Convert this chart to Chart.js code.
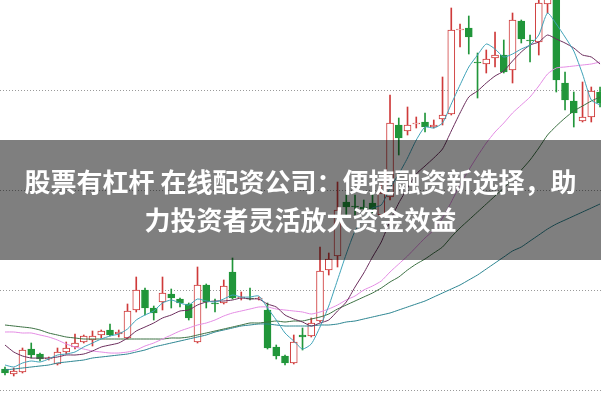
<!DOCTYPE html>
<html lang="zh">
<head>
<meta charset="UTF-8">
<title>K线图</title>
<script src="https://cdn.jsdelivr.net/npm/chart.js"></script>
<style>
    body { margin: 0; background: #fff; }
    .wrap { position: relative; width: 601px; height: 401px; overflow: hidden; }
    .banner {
        position: absolute; left: 0; top: 140px; width: 601px; height: 120px;
        box-sizing: border-box; padding-top: 22px;
        background: rgba(0, 0, 0, 0.5); color: #fff;
        font-family: "Noto Sans CJK SC", "Noto Sans", sans-serif; font-weight: 700;
        font-size: 26px; line-height: 38px; text-align: center; white-space: nowrap;
    }
</style>
</head>
<body>
<div class="wrap">
    <canvas id="kline" width="601" height="401"></canvas>
    <div class="banner">股票有杠杆 在线配资公司：便捷融资新选择，助<br>力投资者灵活放大资金效益</div>
</div>

<script>
// 交易日序号
const days = Array.from({ length: 69 }, (_, i) => i);

// K线数据
const opens = [4.21, 4.16, 4.18, 4.41, 4.36, 4.31, 4.26, 4.38, 4.43, 4.48,
    4.50, 4.55, 4.60, 4.56, 4.52, 4.80, 5.00, 4.82, 4.88, 4.96,
    4.91, 4.86, 4.48, 5.05, 4.87, 4.87, 5.18, 4.92, 4.92, 4.91,
    4.80, 4.43, 4.34, 4.27, 4.55, 4.54, 4.69, 5.20, 5.34, 5.88,
    5.84, 5.83, 5.87, 5.75, 5.93, 6.65, 6.59, 6.66, 6.68, 6.63,
    6.71, 6.76, 7.60, 7.62, 7.28, 7.26, 7.32, 7.35, 7.20, 7.69,
    7.50, 7.48, 7.86, 8.05, 7.07, 6.89, 6.69, 6.73, 6.98];
const highs = [4.23, 4.22, 4.42, 4.47, 4.37, 4.33, 4.42, 4.48, 4.56, 4.55,
    4.59, 4.60, 4.66, 4.60, 4.86, 5.13, 5.02, 4.84, 5.13, 5.01,
    4.92, 4.87, 5.23, 5.06, 4.91, 5.10, 5.32, 4.98, 5.02, 4.93,
    4.87, 4.45, 4.35, 4.55, 4.62, 4.72, 5.43, 5.37, 6.08, 5.95,
    5.95, 5.90, 5.96, 6.07, 6.95, 6.72, 6.83, 6.73, 6.77, 6.70,
    7.13, 7.82, 7.66, 7.74, 7.37, 7.40, 7.58, 7.50, 7.77, 7.70,
    7.55, 7.95, 8.35, 8.10, 7.18, 6.98, 7.08, 7.03, 7.03];
const lows = [4.15, 4.14, 4.17, 4.32, 4.29, 4.30, 4.25, 4.36, 4.41, 4.47,
    4.44, 4.52, 4.54, 4.53, 4.51, 4.78, 4.75, 4.70, 4.80, 4.82,
    4.83, 4.70, 4.47, 4.82, 4.78, 4.86, 4.91, 4.90, 4.90, 4.90,
    4.41, 4.31, 4.25, 4.26, 4.40, 4.53, 4.68, 5.15, 5.23, 5.73,
    5.75, 5.78, 5.77, 5.73, 5.90, 6.35, 6.55, 6.62, 6.58, 6.62,
    6.65, 6.75, 7.43, 7.36, 6.92, 7.17, 7.23, 7.17, 7.07, 7.47,
    7.28, 7.35, 7.77, 6.98, 6.80, 6.63, 6.68, 6.68, 6.83];
const closes = [4.17, 4.19, 4.40, 4.35, 4.31, 4.32, 4.38, 4.42, 4.47, 4.54,
    4.54, 4.59, 4.55, 4.58, 4.79, 5.00, 4.82, 4.77, 4.97, 4.92,
    4.87, 4.72, 5.05, 4.88, 4.86, 5.04, 4.92, 4.93, 4.91, 4.92,
    4.42, 4.34, 4.27, 4.48, 4.53, 4.67, 5.19, 5.31, 5.80, 5.83,
    5.83, 5.81, 5.81, 5.97, 6.67, 6.52, 6.65, 6.67, 6.63, 6.65,
    6.75, 7.60, 7.61, 7.53, 7.27, 7.31, 7.35, 7.18, 7.70, 7.51,
    7.49, 7.87, 8.25, 7.10, 6.90, 6.77, 6.73, 6.99, 6.87];

// 均线
const ma5 = [4.25, 4.23, 4.27, 4.29, 4.28, 4.31, 4.35, 4.36, 4.38, 4.43,
    4.47, 4.51, 4.54, 4.56, 4.61, 4.70, 4.75, 4.79, 4.87, 4.90,
    4.87, 4.85, 4.91, 4.89, 4.88, 4.91, 4.95, 4.93, 4.93, 4.94,
    4.82, 4.70, 4.57, 4.49, 4.41, 4.46, 4.63, 4.84, 5.10, 5.36,
    5.59, 5.72, 5.82, 5.85, 6.02, 6.16, 6.32, 6.50, 6.63, 6.62,
    6.67, 6.86, 7.05, 7.23, 7.35, 7.46, 7.41, 7.33, 7.36, 7.41,
    7.45, 7.55, 7.77, 7.66, 7.53, 7.39, 7.16, 6.90, 6.85];
const ma10 = [4.45, 4.38, 4.34, 4.32, 4.32, 4.32, 4.33, 4.35, 4.35, 4.36,
    4.39, 4.43, 4.45, 4.47, 4.52, 4.59, 4.63, 4.67, 4.72, 4.75,
    4.79, 4.80, 4.85, 4.88, 4.89, 4.89, 4.90, 4.92, 4.91, 4.91,
    4.86, 4.83, 4.75, 4.71, 4.68, 4.64, 4.67, 4.70, 4.79, 4.88,
    5.03, 5.17, 5.33, 5.48, 5.69, 5.87, 6.02, 6.16, 6.24, 6.32,
    6.41, 6.59, 6.77, 6.93, 6.99, 7.07, 7.14, 7.19, 7.29, 7.38,
    7.45, 7.48, 7.55, 7.51, 7.47, 7.42, 7.35, 7.33, 7.26];
const ma20 = [4.58, 4.58, 4.57, 4.57, 4.55, 4.53, 4.50, 4.46, 4.43, 4.41,
    4.39, 4.38, 4.37, 4.37, 4.38, 4.40, 4.44, 4.47, 4.51, 4.55,
    4.59, 4.62, 4.65, 4.67, 4.70, 4.74, 4.77, 4.79, 4.81, 4.83,
    4.83, 4.81, 4.80, 4.79, 4.78, 4.76, 4.78, 4.81, 4.85, 4.90,
    4.94, 5.00, 5.04, 5.09, 5.18, 5.26, 5.34, 5.43, 5.52, 5.60,
    5.72, 5.88, 6.05, 6.20, 6.34, 6.47, 6.58, 6.67, 6.77, 6.85,
    6.93, 7.04, 7.16, 7.22, 7.23, 7.24, 7.25, 7.26, 7.28];
const ma30 = [4.65, 4.64, 4.63, 4.62, 4.60, 4.57, 4.55, 4.53, 4.52, 4.51,
    4.51, 4.51, 4.51, 4.51, 4.51, 4.51, 4.51, 4.51, 4.51, 4.52,
    4.52, 4.53, 4.55, 4.57, 4.59, 4.61, 4.63, 4.65, 4.67, 4.67,
    4.68, 4.69, 4.68, 4.69, 4.69, 4.71, 4.73, 4.76, 4.81, 4.85,
    4.89, 4.93, 4.97, 5.02, 5.08, 5.13, 5.20, 5.26, 5.31, 5.37,
    5.43, 5.53, 5.62, 5.70, 5.78, 5.86, 5.94, 6.02, 6.11, 6.20,
    6.30, 6.42, 6.55, 6.64, 6.72, 6.79, 6.84, 6.89, 6.93];
const ma60 = [4.20, 4.21, 4.22, 4.23, 4.24, 4.25, 4.27, 4.28, 4.29, 4.30,
    4.32, 4.33, 4.34, 4.35, 4.36, 4.38, 4.40, 4.43, 4.45, 4.47,
    4.49, 4.51, 4.53, 4.55, 4.58, 4.60, 4.62, 4.64, 4.65, 4.66,
    4.66, 4.65, 4.64, 4.64, 4.64, 4.64, 4.65, 4.65, 4.66, 4.68,
    4.69, 4.71, 4.73, 4.75, 4.77, 4.80, 4.83, 4.86, 4.89, 4.93,
    4.97, 5.01, 5.05, 5.10, 5.15, 5.21, 5.27, 5.33, 5.39, 5.43,
    5.49, 5.55, 5.61, 5.66, 5.70, 5.74, 5.78, 5.82, 5.86];

// 网格线价位
const gridTicks = [4, 5, 6, 7];

const RED = '#cf3a3a';
const GREEN = '#21963a';

const isUp = opens.map((o, i) => closes[i] >= o);

function maLine(data, color) {
    return {
        type: 'line',
        data: data,
        borderColor: color,
        borderWidth: 1,
        pointRadius: 0,
        tension: 0.2,
        fill: false
    };
}

new Chart(document.getElementById('kline'), {
    type: 'bar',
    data: {
        labels: days,
        datasets: [
            maLine(ma5, '#3fa2b8'),
            maLine(ma10, '#6b2d5c'),
            maLine(ma20, '#e48ce4'),
            maLine(ma30, '#3b7042'),
            maLine(ma60, '#2c8591'),
            {
                // 实体
                data: opens.map((o, i) => [o, closes[i]]),
                backgroundColor: isUp.map(u => u ? '#ffffff' : GREEN),
                borderColor: isUp.map(u => u ? RED : GREEN),
                borderWidth: 1,
                borderSkipped: false,
                barThickness: 7,
                grouped: false
            },
            {
                // 影线
                data: lows.map((l, i) => [l, highs[i]]),
                backgroundColor: isUp.map(u => u ? RED : GREEN),
                borderWidth: 0,
                barThickness: 1,
                grouped: false
            }
        ]
    },
    options: {
        responsive: false,
        animation: false,
        layout: { padding: 0 },
        plugins: {
            legend: { display: false },
            tooltip: { enabled: false }
        },
        scales: {
            x: {
                type: 'linear',
                display: false,
                offset: false,
                min: -0.57,
                max: 68.11
            },
            y: {
                min: 3.89,
                max: 7.90,
                afterBuildTicks: axis => {
                    axis.ticks = gridTicks.map(v => ({ value: v }));
                },
                ticks: { display: false },
                grid: { color: '#9a9a9a', lineWidth: 1, drawTicks: false },
                border: { display: false, dash: [1, 2] }
            }
        }
    }
});
</script>
</body>
</html>
